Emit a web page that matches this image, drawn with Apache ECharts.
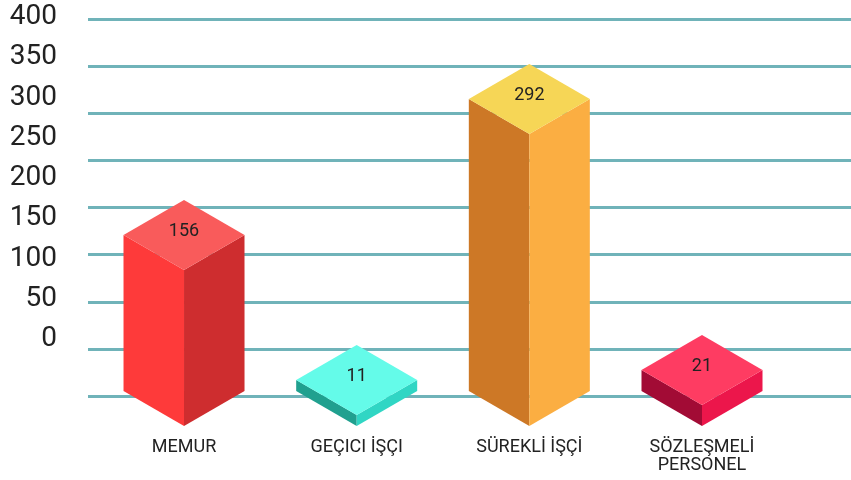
<!DOCTYPE html>
<html>
<head>
<meta charset="utf-8">
<script src="https://cdn.jsdelivr.net/npm/echarts@6/dist/echarts.min.js"></script>
<style>
  html, body { margin: 0; padding: 0; background: #fff; }
  #chartMain { width: 851px; height: 480px; }
</style>
</head>
<body>
<div id="chartMain"></div>
<script>
// kategoriler ve degerler
var categories = ['MEMUR', 'GEÇICI İŞÇI', 'SÜREKLİ İŞÇİ', 'SÖZLEŞMELİ\nPERSONEL'];
var values = [156, 11, 292, 21];
// y ekseni etiketleri
var yTicks = [0, 50, 100, 150, 200, 250, 300, 350, 400];
// yuzey renkleri: ust, sol, sag
var topColors = ['#F95B5B', '#64FBE9', '#F6D656', '#FE3C62'];
var leftColors = ['#FE3A3A', '#20A08F', '#CD7826', '#A20B35'];
var rightColors = ['#CE2D2F', '#30D6C4', '#FBAE42', '#EC164B'];

var halfW = 60.5;  // prizma yarim genisligi
var depth = 35;    // izometrik kayma

function renderPrism(params, api) {
    var idx = params.dataIndex;
    var top = api.coord([api.value(0), api.value(1)]);
    var base = api.coord([api.value(0), 0]);
    var x = top[0], yt = top[1], yb = base[1];
    return {
        type: 'group',
        children: [
            {
                type: 'polygon',
                shape: { points: [[x - halfW, yt - depth], [x, yt], [x, yb], [x - halfW, yb - depth]] },
                style: { fill: leftColors[idx] }
            },
            {
                type: 'polygon',
                shape: { points: [[x, yt], [x + halfW, yt - depth], [x + halfW, yb - depth], [x, yb]] },
                style: { fill: rightColors[idx] }
            },
            {
                type: 'polygon',
                shape: { points: [[x, yt - 2 * depth], [x + halfW, yt - depth], [x, yt], [x - halfW, yt - depth]] },
                style: { fill: topColors[idx] }
            },
            {
                type: 'text',
                style: {
                    text: String(api.value(1)),
                    x: x,
                    y: yt - depth - 4,
                    align: 'center',
                    verticalAlign: 'middle',
                    fill: '#222',
                    font: '18px Roboto'
                }
            }
        ]
    };
}

var myChart = echarts.init(document.getElementById('chartMain'));
var option = {
    animation: false,
    grid: [
        // etiket ekseni
        { left: 57, right: 0, top: 17, bottom: 141 },
        // yatay cizgiler
        { left: 88, right: 0, top: 19, bottom: 84 },
        // prizmalar
        { left: 97.7, right: 62.7, top: 26, bottom: 54 }
    ],
    xAxis: [
        { gridIndex: 0, type: 'value', show: false },
        { gridIndex: 1, type: 'value', show: false },
        {
            gridIndex: 2,
            type: 'category',
            data: categories,
            axisLine: { show: false },
            axisTick: { show: false },
            axisLabel: {
                margin: 12,
                color: '#222',
                fontFamily: 'Roboto',
                fontSize: 18,
                lineHeight: 18,
                verticalAlign: 'top',
                interval: 0
            }
        }
    ],
    yAxis: [
        {
            gridIndex: 0,
            type: 'value',
            min: yTicks[0],
            max: yTicks[yTicks.length - 1],
            interval: yTicks[1] - yTicks[0],
            axisLine: { show: false },
            axisTick: { show: false },
            splitLine: { show: false },
            axisLabel: { margin: 0, color: '#222', fontFamily: 'Roboto', fontSize: 28 }
        },
        {
            gridIndex: 1,
            type: 'value',
            min: 0,
            max: 8,
            interval: 1,
            axisLine: { show: false },
            axisTick: { show: false },
            axisLabel: { show: false },
            splitLine: { lineStyle: { color: '#70B3B9', width: 3 } }
        },
        { gridIndex: 2, type: 'value', min: 0, max: 400, show: false }
    ],
    series: [
        {
            type: 'custom',
            xAxisIndex: 2,
            yAxisIndex: 2,
            renderItem: renderPrism,
            data: values.map(function (v, i) { return [i, v]; }),
            z: 10
        }
    ]
};
myChart.setOption(option);
</script>
</body>
</html>
